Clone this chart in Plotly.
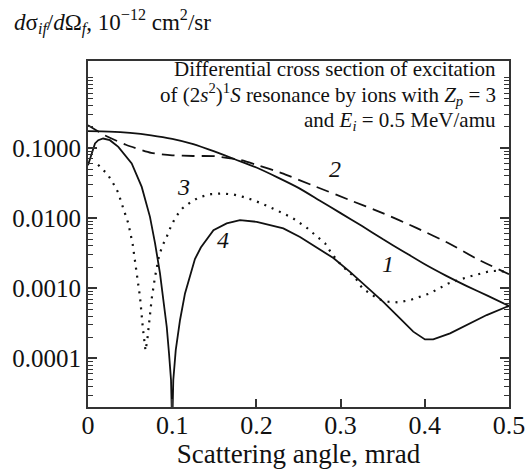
import math
import plotly.graph_objects as go

# ---- data ----
x1 = [0, 0.025, 0.05, 0.075, 0.1, 0.125, 0.15, 0.175, 0.2, 0.225, 0.25, 0.275, 0.3,
      0.325, 0.35, 0.375, 0.4, 0.425, 0.45, 0.475, 0.5]
y1 = [0.173, 0.1706, 0.1637, 0.1514, 0.1349, 0.1135, 0.0891, 0.0684, 0.0525, 0.0380,
      0.0269, 0.0178, 0.01175, 0.00776, 0.00501, 0.00331, 0.00219, 0.00151, 0.00107,
      0.000776, 0.000556]

x2 = [0, 0.02, 0.045, 0.075, 0.1, 0.125, 0.15, 0.18, 0.2, 0.23, 0.27, 0.31, 0.35,
      0.39, 0.43, 0.46, 0.5]
y2 = [0.210, 0.151, 0.111, 0.0851, 0.0785, 0.0767, 0.0762, 0.0676, 0.0575, 0.0437,
      0.0282, 0.0182, 0.01175, 0.00724, 0.00427, 0.00269, 0.00158]

x3 = [0.012, 0.0234, 0.030, 0.036, 0.040, 0.0439, 0.0479, 0.0531, 0.055, 0.0586, 0.0618,
      0.0653, 0.0683, 0.0704, 0.0728, 0.0757, 0.0796, 0.0843, 0.0882, 0.0935, 0.0986,
      0.1042, 0.112, 0.1223, 0.133, 0.146, 0.1588, 0.1726, 0.1844, 0.1963, 0.208, 0.22,
      0.232, 0.2438, 0.26, 0.2715, 0.2815, 0.289, 0.2984, 0.307, 0.317, 0.326, 0.335,
      0.3448, 0.3567, 0.3685, 0.3824, 0.394, 0.406, 0.428, 0.4517, 0.4774, 0.4885, 0.5]
y3 = [0.0575, 0.0418, 0.0311, 0.0229, 0.0161, 0.01164, 0.00838, 0.00421, 0.00296,
      0.00149, 0.00074, 0.000259, 0.000129, 0.000182, 0.000360, 0.000716, 0.00145,
      0.00286, 0.00398, 0.00540, 0.00767, 0.0104, 0.0137, 0.0170, 0.0200, 0.0219,
      0.0224, 0.0217, 0.0200, 0.0180, 0.0158, 0.0137, 0.01164, 0.00986, 0.00724,
      0.00550, 0.00437, 0.00316, 0.00230, 0.00181, 0.00143, 0.000993, 0.000843,
      0.000700, 0.000640, 0.000628, 0.000676, 0.000755, 0.000843, 0.00117, 0.00145,
      0.00175, 0.00177, 0.00166]

x4 = [0, 0.0044, 0.0083, 0.0122, 0.018, 0.026, 0.036, 0.0519, 0.0638, 0.0736, 0.0796,
      0.0855, 0.0894, 0.0935, 0.0962, 0.0986, 0.1, 0.1013, 0.1042, 0.1093, 0.1152,
      0.1231, 0.127, 0.134, 0.149, 0.1647, 0.1805, 0.2004, 0.232, 0.2518, 0.2716,
      0.2914, 0.3112, 0.331, 0.3507, 0.3705, 0.3863, 0.4002, 0.41, 0.43, 0.4498,
      0.4735, 0.4973, 0.5]
y4 = [0.0568, 0.0832, 0.1156, 0.1288, 0.1361, 0.1288, 0.1033, 0.0600, 0.0278, 0.0104,
      0.00440, 0.00163, 0.000755, 0.000282, 0.000118, 0.0000491, 0.00001, 0.0000491,
      0.000131, 0.000352, 0.000843, 0.00181, 0.00260, 0.00380, 0.00673, 0.00838,
      0.00933, 0.00883, 0.00711, 0.00537, 0.00380, 0.00269, 0.00171, 0.00105, 0.00064,
      0.000372, 0.000240, 0.000186, 0.000186, 0.000227, 0.000298, 0.000414, 0.000543,
      0.000556]

xtick_vals = [0, 0.1, 0.2, 0.3, 0.4, 0.5]
xtick_text = ["0", "0.1", "0.2", "0.3", "0.4", "0.5"]
ytick_vals = [0.0001, 0.001, 0.01, 0.1]
ytick_text = ["0.0001", "0.0010", "0.0100", "0.1000"]
yminor_vals = [m * 10 ** e for e in range(-5, 1) for m in range(2, 10)] + [1.0]

labels_txt = ["<i>1</i>", "<i>2</i>", "<i>3</i>", "<i>4</i>"]
labels_x = [0.356, 0.293, 0.114, 0.160]
labels_y = [0.00222, 0.050, 0.028, 0.0048]

box_lines = [
    "Differential cross section of excitation",
    "of (2<i>s</i><sup>2</sup>)<sup>1</sup><i>S</i> resonance by ions with "
    "<i>Z<sub>p</sub></i> = 3",
    "and <i>E<sub>i</sub></i> = 0.5 MeV/amu",
]
box_line_y = [0.976, 0.902, 0.828]

FONT = "Liberation Serif, Times New Roman, Times, serif"
LINE = "#111111"

fig = go.Figure()
fig.add_trace(go.Scatter(x=x1, y=y1, mode="lines",
                         line=dict(color=LINE, width=1.8, shape="spline", smoothing=0.6)))
fig.add_trace(go.Scatter(x=x2, y=y2, mode="lines",
                         line=dict(color=LINE, width=1.8, dash="13px,7px", shape="spline",
                                   smoothing=0.6)))
fig.add_trace(go.Scatter(x=x3, y=y3, mode="lines",
                         line=dict(color=LINE, width=2.2, dash="2px,6px")))
fig.add_trace(go.Scatter(x=x4, y=y4, mode="lines",
                         line=dict(color=LINE, width=1.8)))

for t, lx, ly in zip(labels_txt, labels_x, labels_y):
    fig.add_annotation(x=lx, y=math.log10(ly), yref="y", xref="x", text=t, showarrow=False,
                       font=dict(family=FONT, size=24, color="#111"))

for t, ly in zip(box_lines, box_line_y):
    fig.add_annotation(xref="paper", yref="paper", x=0.975, y=ly, xanchor="right",
                       yanchor="middle", align="right", showarrow=False,
                       font=dict(family=FONT, size=21, color="#111"), text=t)

fig.add_annotation(xref="paper", yref="paper", x=-0.1805, y=1.112, xanchor="left",
                   yanchor="middle", showarrow=False,
                   font=dict(family=FONT, size=23, color="#111"),
                   text=("<i>d</i>σ<sub><i>if</i></sub>/<i>d</i>Ω<sub><i>f</i></sub>, "
                         "10<sup>−12</sup> cm<sup>2</sup>/sr"))

fig.update_layout(
    width=527, height=469,
    margin=dict(l=88, r=18, t=61, b=62, autoexpand=False),
    paper_bgcolor="white", plot_bgcolor="white",
    showlegend=False,
    font=dict(family=FONT, color="#111"),
)
fig.update_xaxes(
    range=[0, 0.5], tickvals=xtick_vals, ticktext=xtick_text, automargin=False,
    ticks="inside", ticklen=8, tickwidth=1.5, tickcolor="#333",
    ticklabelstandoff=-6,
    showline=True, linecolor="#333", linewidth=2, mirror=True,
    showgrid=False, zeroline=False,
    tickfont=dict(family=FONT, size=26),
    title=dict(text="Scattering angle, mrad", font=dict(family=FONT, size=27), standoff=2),
)
fig.update_yaxes(
    type="log", range=[-4.694, 0.239], tickvals=ytick_vals, ticktext=ytick_text,
    automargin=False,
    ticks="inside", ticklen=9, tickwidth=1.5, tickcolor="#333",
    minor=dict(tickvals=yminor_vals, ticks="inside", ticklen=5, tickwidth=1.2,
               tickcolor="#333"),
    showline=True, linecolor="#333", linewidth=2, mirror="allticks",
    showgrid=False, zeroline=False,
    tickfont=dict(family=FONT, size=25),
)

fig.write_html("out.html")
